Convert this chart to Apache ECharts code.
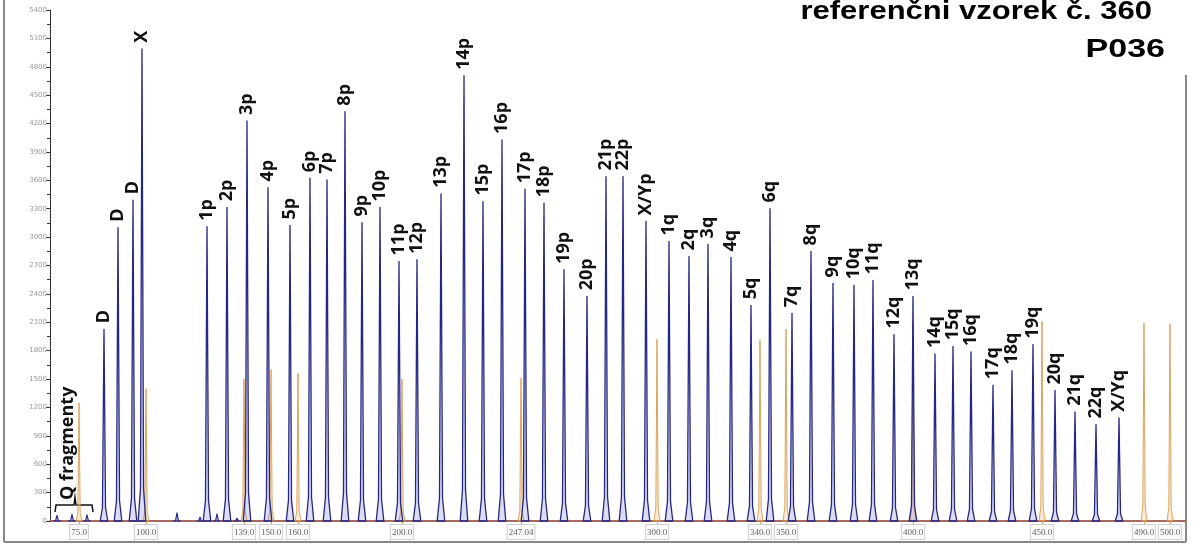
<!DOCTYPE html>
<html><head><meta charset="utf-8">
<script src="https://cdn.jsdelivr.net/npm/echarts@6/dist/echarts.min.js"></script>
<style>html,body{margin:0;padding:0;background:#fff}#c{width:1200px;height:545px}</style>
</head><body><div id="c"></div>
<script>
// Peak labels, scan positions (x) and heights (RFU) of the blue (sample) peaks
const peakLabels = ['D','D','D','X','1p','2p','3p','4p','5p','6p','7p','8p','9p','10p','11p','12p','13p','14p','15p','16p','17p','18p','19p','20p','21p','22p','X/Yp',
  '1q','2q','3q','4q','5q','6q','7q','8q','9q','10q','11q','12q','13q','14q','15q','16q','17q','18q','19q','20q','21q','22q','X/Yq'];
const peakPos = [54,68,83,92,157,177,197,218,240,260,277,295,312,330,349,367,391,414,433,452,475,494,514,537,556,573,596,
  619,639,658,681,701,720,742,761,783,804,823,844,863,885,903,921,943,962,983,1005,1025,1046,1069];
const peakHeights = [2026,3100,3390,4990,3110,3315,4227,3524,3123,3622,3605,4326,3154,3313,2743,2761,3457,4705,3376,4027,3506,3358,2655,2374,3640,3640,3165,
  2954,2796,2923,2785,2279,3302,2195,2849,2511,2490,2543,1970,2374,1765,1846,1786,1435,1590,1864,1379,1154,1020,1090];
// small unlabeled blue bumps (Q fragments and others)
const smallPos = [7,22,37,127,150,167,187];
const smallHeights = [60,70,65,85,40,75,30];
// size standard (orange) peaks
const ladderLabels = ['75.0','100.0','139.0','150.0','160.0','200.0','247.04','300.0','340.0','350.0','400.0','450.0','490.0','500.0'];
const ladderPos = [29,96,194,221,248,352,471,607,710,736,863,992,1094,1120];
const ladderHeights = [1250,1400,1500,1600,1560,1500,1510,1920,1910,2026,2100,2110,2092,2082];
const titleLines = ['referenčni vzorek č. 360','P036'];
const qLabel = 'Q fragmenty';

const chart = echarts.init(document.getElementById('c'), null, {renderer:'canvas'});

function peakRenderer(halfW, stroke, fill, lw, withLabel){
  return function(params, api){
    const x = api.value(0), h = api.value(1);
    const pts = [
      api.coord([x-halfW,0]), api.coord([x-halfW*0.4,h*0.07]), api.coord([x,h]),
      api.coord([x+halfW*0.4,h*0.07]), api.coord([x+halfW,0])
    ];
    const children = [{type:'polygon', shape:{points:pts}, style:{fill:fill, stroke:stroke, lineWidth:lw, lineJoin:'round'}}];
    if (withLabel){
      const t = pts[2];
      children.push({type:'text', x:t[0], y:t[1]-6, rotation:Math.PI/2,
        style:{text:peakLabels[params.dataIndex], font:'bold 18px "Open Sans"', fill:'#111', align:'left', verticalAlign:'middle'}});
    }
    return {type:'group', children:children};
  };
}

const option = {
  animation:false,
  backgroundColor:'#fff',
  grid:{left:50, right:15, top:10, bottom:24},
  xAxis:{type:'value', min:0, max:1135,
    axisLine:{show:true, lineStyle:{color:'#8a3a2a', width:1.5}},
    axisTick:{show:true, customValues:ladderPos, length:3, lineStyle:{color:'#d9a060'}},
    axisLabel:{customValues:ladderPos, hideOverlap:false, showMaxLabel:true, showMinLabel:true,
      formatter:function(v){const i=ladderPos.indexOf(v);return i>=0?ladderLabels[i]:'';},
      fontFamily:'Liberation Serif', fontSize:9, color:'#666', borderColor:'#d0d0d0', borderWidth:1,
      backgroundColor:'#fbfbfb', padding:[3,1,2,1], margin:4},
    splitLine:{show:false}},
  yAxis:{type:'value', min:0, max:5400, interval:300,
    axisLine:{show:true, lineStyle:{color:'#333'}},
    axisTick:{show:true, length:4, lineStyle:{color:'#333'}},
    minorTick:{show:true, splitNumber:2, length:3, lineStyle:{color:'#333'}},
    axisLabel:{fontSize:7, color:'#999', margin:3, fontFamily:'DejaVu Sans', formatter:function(v){return String(v);}},
    splitLine:{show:false}},
  graphic:[
    {type:'line', shape:{x1:4,y1:0,x2:4,y2:542}, style:{stroke:'#888', lineWidth:2}},
    {type:'line', shape:{x1:4,y1:542,x2:1186,y2:542}, style:{stroke:'#888', lineWidth:2}},
    {type:'line', shape:{x1:1186,y1:75,x2:1186,y2:542}, style:{stroke:'#888', lineWidth:2}},
    {type:'text', x:1152, y:25, scaleX:1.24, style:{text:titleLines[0], font:'bold 25px "Liberation Sans"', fill:'#000', align:'right', verticalAlign:'bottom'}},
    {type:'text', x:1165, y:63, scaleX:1.36, style:{text:titleLines[1], font:'bold 25px "Liberation Sans"', fill:'#000', align:'right', verticalAlign:'bottom'}},
    {type:'text', x:68, y:500, rotation:Math.PI/2, style:{text:qLabel, font:'bold 18px "Open Sans"', fill:'#111', align:'left', verticalAlign:'middle'}},
    {type:'polyline', shape:{points:[[55,512],[56,505],[74,505],[75,497],[76,505],[92,505],[93,512]]}, style:{stroke:'#111', lineWidth:1.5, fill:null}}
  ],
  series:[
    {type:'custom', name:'ladder', renderItem:peakRenderer(3, 'rgba(214,150,70,0.85)', 'rgba(240,205,150,0.4)', 1, false),
      data:ladderPos.map((p,i)=>[p,ladderHeights[i]]), z:2},
    {type:'custom', name:'small', renderItem:peakRenderer(3.5, '#2c2c8c', 'rgba(130,130,210,0.35)', 1.2, false),
      data:smallPos.map((p,i)=>[p,smallHeights[i]]), z:3},
    {type:'custom', name:'peaks', renderItem:peakRenderer(3.8, '#262683', 'rgba(140,140,215,0.3)', 1.3, true),
      data:peakPos.map((p,i)=>[p,peakHeights[i]]), z:4}
  ]
};
chart.setOption(option);
</script></body></html>
